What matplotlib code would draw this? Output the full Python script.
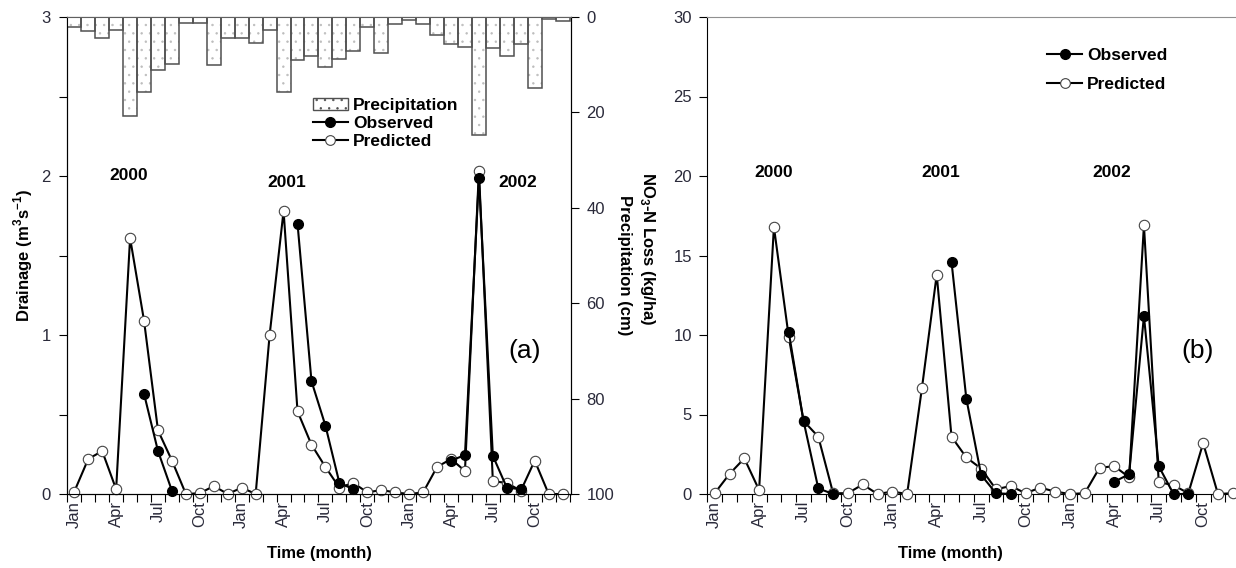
import numpy as np
import matplotlib
matplotlib.use('Agg')
import matplotlib.pyplot as plt
from matplotlib.lines import Line2D
from matplotlib.patches import Patch
from matplotlib.ticker import FixedLocator, MultipleLocator

plt.rcParams['font.family'] = ['Liberation Sans', 'DejaVu Sans']
plt.rcParams['mathtext.fontset'] = 'custom'
plt.rcParams['mathtext.rm'] = 'Liberation Sans'
plt.rcParams['mathtext.bf'] = 'Liberation Sans:bold'
plt.rcParams['hatch.linewidth'] = 0.5

nan = np.nan
months = np.arange(36)
month_names = ['Jan', 'Apr', 'Jul', 'Oct'] * 3
years = ['2000', '2001', '2002']

# monthly precipitation (cm), Jan 2000 - Dec 2002
precip = [2.2, 2.9, 4.3, 2.7, 20.8, 15.7, 11.2, 9.8, 1.2, 1.2, 10.0, 4.3,
          4.3, 5.5, 2.7, 15.7, 9.1, 8.2, 10.5, 8.9, 7.1, 2.0, 7.5, 1.4,
          0.7, 1.4, 3.8, 5.7, 6.3, 24.8, 6.6, 8.2, 5.7, 14.9, 0.5, 0.8]

# drainage (m3/s)
drain_obs = [nan, nan, nan, nan, nan, 0.63, 0.27, 0.02, nan, nan, nan, nan,
             nan, nan, nan, nan, 1.70, 0.71, 0.43, 0.07, 0.03, nan, nan, nan,
             nan, nan, nan, 0.21, 0.245, 1.99, 0.24, 0.04, 0.03, nan, nan, nan]
drain_pred = [0.015, 0.22, 0.27, 0.03, 1.61, 1.09, 0.40, 0.21, 0.0, 0.005, 0.05, 0.0,
              0.04, 0.0, 1.0, 1.78, 0.52, 0.31, 0.17, 0.04, 0.07, 0.01, 0.025, 0.01,
              0.0, 0.01, 0.17, 0.22, 0.145, 2.03, 0.08, 0.07, 0.02, 0.21, 0.0, 0.0]

# NO3-N loss (kg/ha)
no3_obs = [nan, nan, nan, nan, nan, 10.2, 4.6, 0.35, 0.0, nan, nan, nan,
           nan, nan, nan, nan, 14.6, 6.0, 1.2, 0.05, 0.0, nan, nan, nan,
           nan, nan, nan, 0.77, 1.25, 11.2, 1.75, 0.0, 0.0, nan, nan, nan]
no3_pred = [0.05, 1.26, 2.24, 0.25, 16.8, 9.9, 4.6, 3.6, 0.05, 0.05, 0.6, 0.0,
            0.15, 0.0, 6.65, 13.8, 3.6, 2.3, 1.6, 0.3, 0.5, 0.05, 0.4, 0.15,
            0.0, 0.05, 1.65, 1.75, 1.05, 16.9, 0.75, 0.55, 0.05, 3.2, 0.0, 0.05]

W, H = 1236, 568
fig = plt.figure(figsize=(W / 100, H / 100), dpi=100)
ax1 = fig.add_axes([67.3 / W, 74 / H, 503.7 / W, 477 / H])
ax1p = ax1.twinx()
ax2 = fig.add_axes([707.3 / W, 74 / H, 528.7 / W, 477 / H])

tick_col = '#2a2a3a'
fs_tick = 12
fs_lab = 12
obs_kw = dict(color='black', lw=1.5, marker='o', ms=7, mfc='black', mec='black', clip_on=False, zorder=4)
pred_kw = dict(color='black', lw=1.5, marker='o', ms=7.5, mfc='white', mec='#444444', mew=0.8, clip_on=False, zorder=3)


def style_xaxis(ax, xmax):
    ax.set_xlim(-0.5, xmax)
    ax.xaxis.set_major_locator(FixedLocator(np.arange(0, 36, 3)))
    ax.set_xticklabels(month_names, rotation=90)
    ax.xaxis.set_minor_locator(FixedLocator(np.arange(-0.5, 36, 1)))
    ax.tick_params(axis='x', which='major', length=0, pad=5, labelsize=fs_tick, labelcolor=tick_col)
    ax.tick_params(axis='x', which='minor', length=6, direction='out', width=0.8)
    ax.set_xlabel('Time (month)', fontweight='bold', fontsize=fs_lab)


# ---- panel (a)
ax1.plot(months, drain_pred, **pred_kw)
ax1.plot(months, drain_obs, **obs_kw)
ax1.set_ylim(0, 3)
ax1.yaxis.set_major_locator(MultipleLocator(1))
ax1.yaxis.set_minor_locator(MultipleLocator(0.5))
ax1.tick_params(axis='y', which='both', length=6, width=0.8, labelsize=fs_tick, labelcolor=tick_col, pad=6)
style_xaxis(ax1, 35.6)
ax1.set_ylabel(r'Drainage (m$^{\mathbf{3}}$s$^{\mathbf{-1}}$)', fontweight='bold', fontsize=fs_lab)
ax1.yaxis.set_label_coords(-0.064, 0.5)
ax1.xaxis.set_label_coords(0.5, -0.11)

ax1p.bar(months, precip, width=1.0, bottom=0, color='white', edgecolor='#bdbdbd', hatch='..', lw=0)
ax1p.bar(months, precip, width=1.0, bottom=0, fill=False, edgecolor='#505050', lw=1.1)
ax1p.set_ylim(100, 0)
ax1p.yaxis.set_major_locator(MultipleLocator(20))
ax1p.tick_params(axis='y', length=6, width=0.8, labelsize=fs_tick, labelcolor=tick_col, pad=5)
ax1p.set_ylabel('Precipitation (cm)', fontweight='bold', fontsize=fs_lab, rotation=270, va='center')
ax1p.yaxis.set_label_coords(1.107, 0.48)
ax1p.spines['top'].set_color('#606060')

for m, yv, lab in zip([3.9, 15.2, 31.8], [2.0, 1.96, 1.96], years):
    ax1.text(m, yv, lab, fontweight='bold', fontsize=12.5, ha='center', va='center')
ax1.text(32.3, 0.9, '(a)', fontsize=19, ha='center', va='center')

handles = [Patch(facecolor='white', edgecolor='#505050', hatch='..'),
           Line2D([], [], color='black', lw=1.5, marker='o', ms=7, mfc='black', mec='black'),
           Line2D([], [], color='black', lw=1.5, marker='o', ms=7, mfc='white', mec='#444444', mew=0.8)]
ax1p.legend(handles, ['Precipitation', 'Observed', 'Predicted'], loc='upper left',
            bbox_to_anchor=(0.488, 0.83), frameon=False, borderpad=0, borderaxespad=0,
            labelspacing=0.15, handlelength=2.0, handletextpad=0.3,
            prop={'weight': 'bold', 'size': 12.5})

# ---- panel (b)
ax2.plot(months, no3_pred, **pred_kw)
ax2.plot(months, no3_obs, **obs_kw)
ax2.set_ylim(0, 30)
ax2.yaxis.set_major_locator(MultipleLocator(5))
ax2.tick_params(axis='y', length=6, width=0.8, labelsize=fs_tick, labelcolor=tick_col, pad=5)
style_xaxis(ax2, 35.22)
ax2.spines['right'].set_visible(False)
ax2.spines['top'].set_color('#909090')
ax2.set_ylabel(r'NO$_{\mathbf{3}}$-N Loss (kg/ha)', fontweight='bold', fontsize=fs_lab, rotation=270, va='center')
ax2.yaxis.set_label_coords(-0.114, 0.515)
ax2.xaxis.set_label_coords(0.459, -0.11)

for m, lab in zip([4.0, 15.3, 26.8], years):
    ax2.text(m, 20.2, lab, fontweight='bold', fontsize=12.5, ha='center', va='center')
ax2.text(32.6, 9.0, '(b)', fontsize=19, ha='center', va='center')

ax2.legend(handles[1:], ['Observed', 'Predicted'], loc='upper left',
           bbox_to_anchor=(0.643, 0.935), frameon=False, borderpad=0, borderaxespad=0,
           labelspacing=0.8, handlelength=2.0, handletextpad=0.3,
           prop={'weight': 'bold', 'size': 12.5})

fig.savefig('out.png', dpi=100)
